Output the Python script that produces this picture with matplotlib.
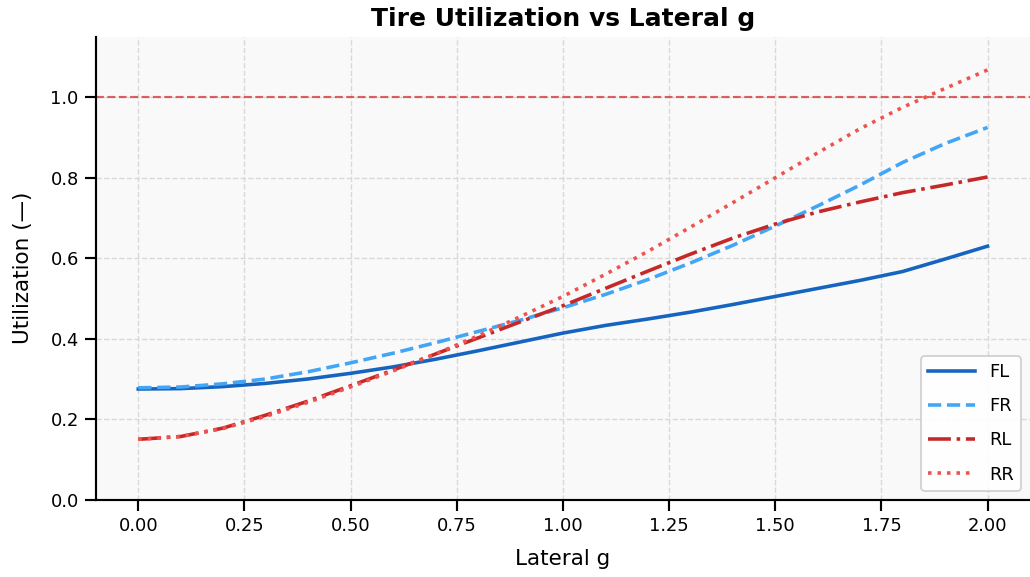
import numpy as np
import matplotlib
matplotlib.use("Agg")
import matplotlib.pyplot as plt

# Lateral g samples
lat_g = [0.0, 0.1, 0.2, 0.3, 0.4, 0.5, 0.6, 0.7, 0.8, 0.9, 1.0,
         1.1, 1.2, 1.3, 1.4, 1.5, 1.6, 1.7, 1.8, 1.9, 2.0]

# Utilization per tire
fl = [0.275, 0.276, 0.281, 0.289, 0.300, 0.314, 0.330, 0.349, 0.370, 0.392, 0.414,
      0.433, 0.449, 0.466, 0.485, 0.505, 0.525, 0.545, 0.567, 0.598, 0.630]
fr = [0.278, 0.280, 0.288, 0.300, 0.318, 0.340, 0.364, 0.390, 0.418, 0.446, 0.477,
      0.510, 0.547, 0.588, 0.632, 0.680, 0.730, 0.782, 0.838, 0.885, 0.925]
rl = [0.150, 0.157, 0.178, 0.210, 0.245, 0.283, 0.322, 0.362, 0.402, 0.442, 0.482,
      0.525, 0.568, 0.610, 0.650, 0.685, 0.715, 0.740, 0.763, 0.782, 0.802]
rr = [0.150, 0.157, 0.177, 0.207, 0.242, 0.280, 0.320, 0.362, 0.407, 0.455, 0.505,
      0.560, 0.617, 0.677, 0.738, 0.800, 0.862, 0.922, 0.975, 1.022, 1.068]

fig = plt.figure(figsize=(8, 4.4816), dpi=128.75)
ax = fig.add_axes([0.093, 0.134, 0.907, 0.802])
ax.set_facecolor('#f9f9f9')

ax.axhline(1.0, color='#d32f2f', linestyle='--', linewidth=1.2, alpha=0.75)

ax.plot(lat_g, fl, color='#1565c0', linestyle='-', linewidth=2, label='FL')
ax.plot(lat_g, fr, color='#42a5f5', linestyle='--', linewidth=2, label='FR')
ax.plot(lat_g, rl, color='#c62828', linestyle='-.', linewidth=2, label='RL')
ax.plot(lat_g, rr, color='#ef5350', linestyle=':', linewidth=2, label='RR')

ax.set_xlim(-0.1, 2.1)
ax.set_ylim(0, 1.15)
ax.set_xticks(np.arange(0, 2.01, 0.25))
ax.set_yticks(np.arange(0, 1.01, 0.2))
ax.xaxis.set_major_formatter(matplotlib.ticker.FormatStrFormatter('%.2f'))
ax.yaxis.set_major_formatter(matplotlib.ticker.FormatStrFormatter('%.1f'))
ax.tick_params(labelsize=10, width=1.2, length=6)

ax.grid(True, linestyle='--', color='#d9d9d9', linewidth=0.8)
ax.set_axisbelow(True)
for s in ['top', 'right']:
    ax.spines[s].set_visible(False)
for s in ['left', 'bottom']:
    ax.spines[s].set_linewidth(1.2)

ax.set_xlabel('Lateral g', fontsize=12, labelpad=8)
ax.set_ylabel('Utilization (—)', fontsize=12, labelpad=10)
ax.set_title('Tire Utilization vs Lateral g', fontsize=14, fontweight='bold')
ax.legend(loc='lower right', fontsize=10, handlelength=2.6, labelspacing=0.9, framealpha=0.9)

fig.savefig('out.png', dpi=128.75)
